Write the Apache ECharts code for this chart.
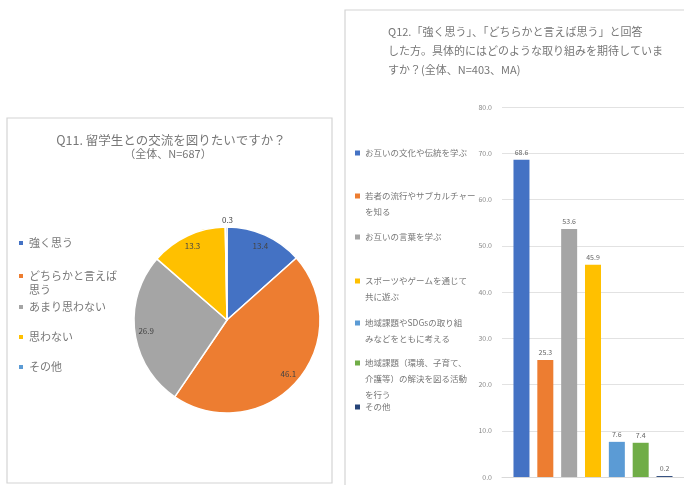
<!DOCTYPE html>
<html>
<head>
<meta charset="utf-8">
<script src="https://cdn.jsdelivr.net/npm/echarts@6/dist/echarts.min.js"></script>
<style>
  html, body { margin: 0; padding: 0; background: #fff; }
  #chart { width: 684px; height: 485px; }
</style>
</head>
<body>
<div id="chart"></div>
<script>
// Q11: 留学生との交流を図りたいか (%)
const pieCategories = ['強く思う', 'どちらかと言えば\n思う', 'あまり思わない', '思わない', 'その他'];
const pieValues = [13.4, 46.1, 26.9, 13.3, 0.3];
const pieColors = ['#4472C4', '#ED7D31', '#A5A5A5', '#FFC000', '#5B9BD5'];

// Q12: 期待する取り組み (%, 複数回答)
const barCategories = [
  'お互いの文化や伝統を学ぶ',
  '若者の流行やサブカルチャー\nを知る',
  'お互いの言葉を学ぶ',
  'スポーツやゲームを通じて\n共に遊ぶ',
  '地域課題やSDGsの取り組\nみなどをともに考える',
  '地域課題（環境、子育て、\n介護等）の解決を図る活動\nを行う',
  'その他'
];
const barValues = [68.6, 25.3, 53.6, 45.9, 7.6, 7.4, 0.2];
const barColors = ['#4472C4', '#ED7D31', '#A5A5A5', '#FFC000', '#5B9BD5', '#70AD47', '#264478'];

// value axis ticks for Q12
const barTicks = [0, 10, 20, 30, 40, 50, 60, 70, 80];

const FONT = '"Noto Sans CJK JP", "Noto Sans", sans-serif';
const TEXT = '#777777';

// internal keys keep the two "その他" entries apart
const pieKeys = pieCategories.map((_, i) => 'q11-' + i);
const barKeys = barCategories.map((_, i) => 'q12-' + i);

// one legend per entry so the marker sits on the first text line
function legendEntry(key, text, left, firstLineY, fontSize, lh, size) {
  const n = text.split('\n').length;
  return {
    data: [key],
    orient: 'vertical',
    left: left,
    top: firstLineY - (n - 0.5) * lh,
    padding: 0,
    icon: 'rect',
    itemWidth: size,
    itemHeight: size,
    formatter: () => '\n'.repeat(n - 1) + text,
    textStyle: { fontSize: fontSize, lineHeight: lh, color: TEXT, fontFamily: FONT }
  };
}

const pieLegendY = [243, 276, 307, 337, 367];
const barLegendY = [153, 196, 237, 281, 323, 363, 407];

const legends = [
  ...pieKeys.map((k, i) => legendEntry(k, pieCategories[i], 17, pieLegendY[i], 11, 14, 6)),
  ...barKeys.map((k, i) => legendEntry(k, barCategories[i], 355, barLegendY[i], 8.5, 16, 5))
];

const pieCenter = [227, 320];
const pieR = 93;

const option = {
  animation: false,
  textStyle: { fontFamily: FONT },
  legend: legends,
  graphic: [
    { type: 'rect', shape: { x: 7, y: 118, width: 325, height: 365 },
      style: { fill: 'none', stroke: '#d4d4d4', lineWidth: 1.2 }, silent: true },
    { type: 'rect', shape: { x: 345, y: 10, width: 360, height: 500 },
      style: { fill: 'none', stroke: '#d4d4d4', lineWidth: 1.2 }, silent: true },
    { type: 'text', x: 171, y: 140, silent: true,
      style: { text: 'Q11. 留学生との交流を図りたいですか？', font: '12.5px ' + FONT, fill: TEXT,
               align: 'center', verticalAlign: 'middle', textAlign: 'center', textVerticalAlign: 'middle' } },
    { type: 'text', x: 168, y: 154, silent: true,
      style: { text: '（全体、N=687）', font: '11px ' + FONT, fill: TEXT,
               align: 'center', verticalAlign: 'middle', textAlign: 'center', textVerticalAlign: 'middle' } },
    { type: 'text', x: 388, y: 22.5, silent: true,
      style: { text: 'Q12.「強く思う」、「どちらかと言えば思う」と回答\nした方。具体的にはどのような取り組みを期待していま\nすか？(全体、N=403、MA)',
               font: '11px ' + FONT, fill: TEXT, lineHeight: 19,
               align: 'left', verticalAlign: 'top', textAlign: 'left', textVerticalAlign: 'top' } }
  ],
  grid: { left: 502, right: 0, top: 107, bottom: 8 },
  xAxis: {
    type: 'category',
    data: [''],
    axisLine: { lineStyle: { color: '#d9d9d9' } },
    axisTick: { show: false },
    axisLabel: { show: false }
  },
  yAxis: {
    type: 'value',
    min: barTicks[0],
    max: barTicks[barTicks.length - 1],
    interval: barTicks[1] - barTicks[0],
    axisLine: { show: false },
    axisTick: { show: false },
    axisLabel: { formatter: v => v.toFixed(1), fontSize: 7, color: '#8a8a8a', margin: 10 },
    splitLine: { lineStyle: { color: '#e2e2e2' } }
  },
  series: [
    {
      type: 'pie',
      name: 'q11',
      center: pieCenter,
      radius: [0, pieR],
      startAngle: 90,
      clockwise: true,
      data: pieKeys.map((k, i) => ({ name: k, value: pieValues[i], itemStyle: { color: pieColors[i] } })),
      itemStyle: { borderColor: '#ffffff', borderWidth: 1.5 },
      label: { show: false },
      labelLine: { show: false },
      emphasis: { disabled: true }
    },
    {
      // transparent ring that carries the value labels near the rim
      type: 'pie',
      name: 'q11-labels',
      center: pieCenter,
      radius: [64, pieR],
      startAngle: 90,
      clockwise: true,
      silent: true,
      avoidLabelOverlap: false,
      data: pieKeys.map((k, i) => {
        const item = { name: k, value: pieValues[i], itemStyle: { color: 'rgba(0,0,0,0)' } };
        if (i === pieKeys.length - 1) {
          item.label = { position: 'outside', distanceToLabelLine: -7 };
          item.labelLine = { show: false, length: 7, length2: 0 };
        }
        return item;
      }),
      label: { show: true, position: 'inside', formatter: p => p.value.toFixed(1),
               fontSize: 8, color: '#444444' },
      labelLine: { show: false },
      emphasis: { disabled: true }
    },
    ...barKeys.map((k, i) => ({
      type: 'bar',
      name: k,
      data: [barValues[i]],
      barWidth: 16,
      barGap: '49%',
      itemStyle: { color: barColors[i] },
      label: { show: true, position: 'top', distance: 4, formatter: p => p.value.toFixed(1),
               fontSize: 7, color: '#666666' },
      emphasis: { disabled: true }
    }))
  ]
};

const chart = echarts.init(document.getElementById('chart'));
chart.setOption(option);
</script>
</body>
</html>
